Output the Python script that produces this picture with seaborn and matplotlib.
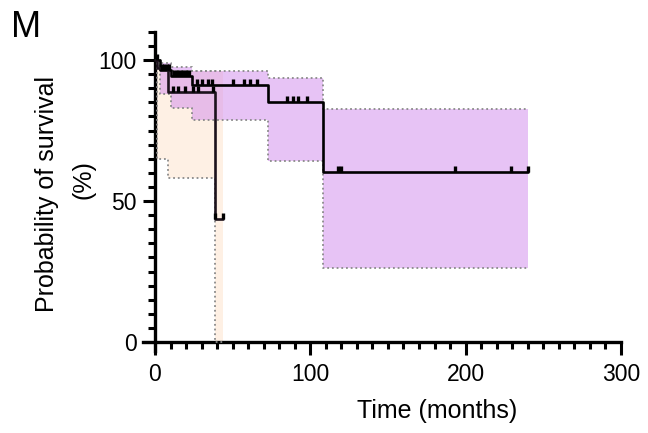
import numpy as np
import pandas as pd
import matplotlib
matplotlib.use("Agg")
import matplotlib.pyplot as plt
import seaborn as sns
from matplotlib.ticker import MultipleLocator, FixedLocator

# ---------------- data ----------------
# Group A (purple confidence band)
time_a = [0, 3.5, 10, 24, 73, 108, 240]
surv_a = [100, 96.5, 94.5, 91.2, 85.2, 60.4, 60.4]
upper_a = [100, 99, 97.5, 96, 93.6, 82.6, 82.6]
lower_a = [100, 88, 83, 78.7, 64.3, 26.2, 26.2]
censor_a = [1, 4.5, 6, 7.5, 9, 12, 14, 16, 18, 20, 22, 27, 30, 34, 37,
            50, 57, 61, 66, 85, 89, 92, 98, 118, 120, 193, 229, 240]

# Group B (peach confidence band)
time_b = [0, 1.5, 8.4, 38.6, 43.5]
surv_b = [100, 97, 88.7, 43.8, 43.8]
upper_b = [100, 98, 96, 96, 96]
lower_b = [100, 65, 58, 0, 0]
censor_b = [11.6, 14.8, 19.3, 24.5, 27.7, 37.3, 38.6, 43.5]

x_major = [0, 100, 200, 300]
y_major = [0, 50, 100]

# ---------------- style ----------------
sns.set_theme(style="ticks")
plt.rcParams["font.family"] = ["Liberation Sans", "DejaVu Sans"]
plt.rcParams["text.color"] = "black"

fig = plt.figure(figsize=(6.48, 4.33), dpi=100)
ax = fig.add_axes([0.220, 0.1905, 0.743, 0.7425])

peach = "#FEF0E4"
purple = (209 / 255, 137 / 255, 237 / 255, 0.5)
dotc = "#8a8a8a"

# confidence bands
ax.fill_between(time_b, lower_b, upper_b, step="post", color=peach, lw=0, zorder=1)
ax.fill_between(time_a, lower_a, upper_a, step="post", color=purple, lw=0, zorder=2)
for t, b in [(time_b, upper_b), (time_b, lower_b), (time_a, upper_a), (time_a, lower_a)]:
    ax.step(t, b, where="post", color=dotc, lw=1.3, ls=(0, (1, 1.6)), zorder=3)

# survival curves
df = pd.concat([
    pd.DataFrame({"time": time_a, "surv": surv_a, "group": "A"}),
    pd.DataFrame({"time": time_b, "surv": surv_b, "group": "B"}),
])
sns.lineplot(data=df, x="time", y="surv", hue="group", units="group",
             estimator=None, palette={"A": "black", "B": "#1c121c"},
             drawstyle="steps-post", lw=1.9, legend=False, ax=ax, zorder=4)

def step_value(times, surv, t):
    idx = np.searchsorted(times, t, side="right") - 1
    return np.asarray(surv)[idx]

tick_marker = [(0, 0), (0, 1)]
for times, surv, cens in [(time_a, surv_a, censor_a), (time_b, surv_b, censor_b)]:
    vals = [step_value(times, surv, c) for c in cens]
    ax.plot(cens, vals, ls="none", marker=tick_marker, ms=8, mew=2.4,
            color="black", zorder=5)

# ---------------- axes ----------------
ax.set_xlim(-8, 302)
ax.set_ylim(-3, 111)
for s in ["top", "right"]:
    ax.spines[s].set_visible(False)
ax.spines["left"].set_position(("data", 0))
ax.spines["bottom"].set_position(("data", 0))
ax.spines["left"].set_bounds(-3, 110)
ax.spines["bottom"].set_bounds(-8, 300)
for s in ["left", "bottom"]:
    ax.spines[s].set_linewidth(2.4)
    ax.spines[s].set_color("black")

ax.xaxis.set_major_locator(FixedLocator(x_major))
ax.xaxis.set_minor_locator(MultipleLocator(10))
ax.yaxis.set_major_locator(FixedLocator(y_major))
ax.yaxis.set_minor_locator(FixedLocator(np.arange(0, 111, 5)))
ax.tick_params(which="major", length=9, width=2.2, color="black",
               labelsize=16.5, pad=4, labelcolor="black")
ax.tick_params(which="minor", length=5, width=2.2, color="black")
ax.tick_params(axis="x", which="major", pad=6)

ax.set_xlabel("")
ax.set_ylabel("")
fig.text(437 / 648, 1 - 411 / 433, "Time (months)", ha="center", va="center",
         fontsize=18, color="black")
fig.text(47 / 648, 1 - 194 / 433, "Probability of survival", rotation=90,
         ha="center", va="center", fontsize=18, color="black")
fig.text(83 / 648, 1 - 180 / 433, "(%)", rotation=90, ha="center", va="center",
         fontsize=18, color="black")
fig.text(11 / 648, 1 - 10 / 433, "M", ha="left", va="top", fontsize=26, color="black")

fig.savefig("out.png", dpi=100)
